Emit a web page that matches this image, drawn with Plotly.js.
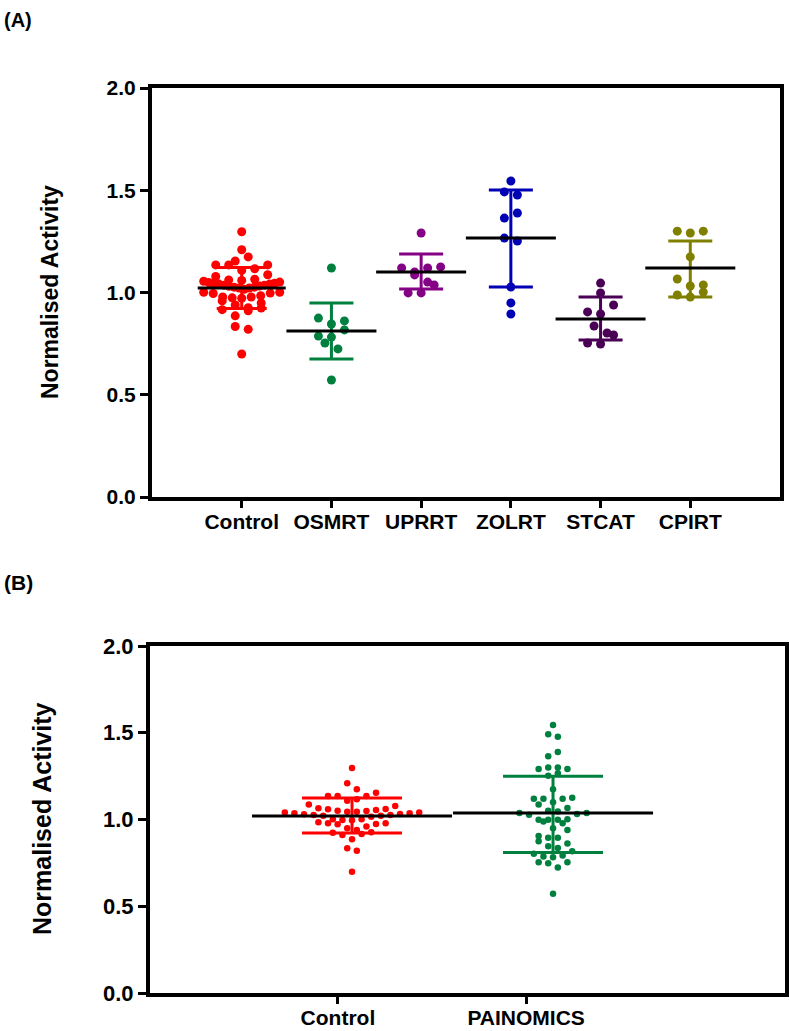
<!DOCTYPE html>
<html><head><meta charset="utf-8">
<script src="https://cdn.plot.ly/plotly-3.0.1.min.js"></script>
<style>html,body{margin:0;padding:0;background:#fff}#chart{width:789px;height:1031px}</style>
</head><body><div id="chart"></div>
<script>
// ---------------- DATA ----------------
const categoriesA = ['Control', 'OSMRT', 'UPRRT', 'ZOLRT', 'STCAT', 'CPIRT'];
const control = [1.297,1.209,1.174,1.154,1.135,1.135,1.135,1.116,1.108,1.087,1.078,1.065,1.061,1.059,1.055,1.051,1.049,1.045,1.045,1.041,1.041,1.036,1.036,1.032,1.030,1.026,1.026,1.022,1.022,1.016,1.001,1.001,0.997,0.995,0.984,0.978,0.978,0.974,0.972,0.959,0.949,0.939,0.926,0.924,0.916,0.911,0.886,0.834,0.820,0.699];
const osmrt = [1.120,0.875,0.861,0.846,0.817,0.787,0.782,0.753,0.724,0.572];
const uprrt = [1.291,1.125,1.120,1.120,1.100,1.086,1.051,1.037,0.998,0.998];
const zolrt = [1.545,1.492,1.477,1.389,1.364,1.266,1.252,1.027,0.949,0.895];
const stcat = [1.046,0.998,0.939,0.905,0.895,0.836,0.802,0.792,0.753,0.748];
const cpirt = [1.300,1.300,1.291,1.174,1.066,1.037,1.032,1.002,0.988,0.978];
const meansA   = [1.022, 0.812, 1.100, 1.266, 0.870, 1.120];
const sdUpperA = [1.122, 0.949, 1.188, 1.501, 0.978, 1.252];
const sdLowerA = [0.922, 0.675, 1.017, 1.027, 0.768, 0.978];
const colorsA  = ['#ff0000', '#00803f', '#840084', '#0000b4', '#4a0055', '#808000'];

const categoriesB = ['Control', 'PAINOMICS'];
const meansB   = [1.020, 1.037];
const sdUpperB = [1.124, 1.250];
const sdLowerB = [0.922, 0.810];
const colorsB  = ['#ff0000', '#00803f'];

const yTickVals = [0, 0.5, 1.0, 1.5, 2.0];
const yTickLabels = ['0.0', '0.5', '1.0', '1.5', '2.0'];
const yTitle = 'Normalised Activity';

// ---------------- LAYOUT GEOMETRY ----------------
const W = 789, H = 1031;
const A = {x0: 152, x1: 780, y0: 88, y1: 497, xr: [-1, 6.0], tickShift: 0};
// in panel B the plotted columns sit a little right of the tick marks
const B = {x0: 150, x1: 785, y0: 646, y1: 993, xr: [-1.005, 2.154], tickShift: [-0.070, -0.134]};
const FONT = 'Liberation Sans, Arial, sans-serif';
const LINE_EW = 1.4; // plotly 'line-ew' symbol length = 1.4 * size

function pxPerX(p) { return (p.x1 - p.x0) / (p.xr[1] - p.xr[0]); }
function pxPerY(p) { return (p.y1 - p.y0) / 2.0; }

// GraphPad-like scatter layout: bin values into rows, spread each row symmetrically
function rowSwarm(vals, pyScale, rowH, spacing, maxHalf) {
  const idx = vals.map((v, i) => i).sort((a, b) => vals[a] - vals[b]);
  const rows = [];
  let cur = null;
  idx.forEach(i => {
    const y = vals[i] * pyScale;
    if (!cur || y - cur.start >= rowH) { cur = {start: y, items: []}; rows.push(cur); }
    cur.items.push(i);
  });
  const off = new Array(vals.length).fill(0);
  let flip = 1;
  rows.forEach(r => {
    const n = r.items.length;
    let s = spacing;
    if (n > 1 && (n - 1) / 2 * s > maxHalf) s = maxHalf / ((n - 1) / 2);
    const pos = [];
    for (let k = 0; k < n; k++) pos.push((k - (n - 1) / 2) * s);
    pos.sort((a, b) => (Math.abs(a) - Math.abs(b)) || flip * (a - b));
    flip = -flip;
    r.items.forEach((it, j) => { off[it] = pos[j]; });
  });
  return off;
}

const traces = [];
const groupsA = [control, osmrt, uprrt, zolrt, stcat, cpirt];
groupsA.forEach((vals, i) => {
  const offs = rowSwarm(vals, pxPerY(A), i === 0 ? 8 : 9, 13, i === 0 ? 38 : 22);
  traces.push({
    type: 'scatter', mode: 'markers', xaxis: 'x', yaxis: 'y',
    x: offs.map(o => i + o / pxPerX(A)), y: vals,
    marker: {color: colorsA[i], size: 9, line: {width: 0}},
    hoverinfo: 'y', showlegend: false
  });
});
const painomics = [].concat(osmrt, uprrt, zolrt, stcat, cpirt);
const groupsB = [control, painomics];
groupsB.forEach((vals, i) => {
  const offs = rowSwarm(vals, pxPerY(B), 8, 9.6, 84);
  traces.push({
    type: 'scatter', mode: 'markers', xaxis: 'x2', yaxis: 'y2',
    x: offs.map(o => i + o / pxPerX(B)), y: vals,
    marker: {color: colorsB[i], size: 6.5, line: {width: 0}},
    hoverinfo: 'y', showlegend: false
  });
});

// mean + SD traces
meansA.forEach((m, i) => {
  traces.push({
    type: 'scatter', mode: 'markers', xaxis: 'x', yaxis: 'y',
    x: [i], y: [m],
    marker: {symbol: 'line-ew', size: (i === 0 ? 88 : 90) / LINE_EW, color: '#000', line: {color: '#000', width: 3}},
    error_y: {type: 'data', symmetric: false, array: [sdUpperA[i] - m], arrayminus: [m - sdLowerA[i]],
              color: colorsA[i], thickness: 3, width: i === 0 ? 25 : 22},
    hoverinfo: 'y', showlegend: false
  });
});
meansB.forEach((m, i) => {
  traces.push({
    type: 'scatter', mode: 'markers', xaxis: 'x2', yaxis: 'y2',
    x: [i], y: [m],
    marker: {symbol: 'line-ew', size: 200 / LINE_EW, color: '#000', line: {color: '#000', width: 3}},
    error_y: {type: 'data', symmetric: false, array: [sdUpperB[i] - m], arrayminus: [m - sdLowerB[i]],
              color: colorsB[i], thickness: 3, width: 50},
    hoverinfo: 'y', showlegend: false
  });
});

function xaxisDef(p, cats, anchor, fs) {
  const shift = (i) => Array.isArray(p.tickShift) ? p.tickShift[i] : p.tickShift;
  return {
    domain: [p.x0 / W, p.x1 / W], range: p.xr, anchor: anchor,
    tickmode: 'array', tickvals: cats.map((c, i) => i + shift(i)), ticktext: cats,
    ticks: 'outside', ticklen: 7, tickwidth: 3, tickcolor: '#000',
    ticklabelstandoff: -4,
    showline: true, linewidth: 4, linecolor: '#000', mirror: true,
    showgrid: false, zeroline: false,
    tickfont: {family: FONT, size: fs, color: '#000', weight: 'bold'}
  };
}
function yaxisDef(p, anchor, fs) {
  return {
    domain: [1 - p.y1 / H, 1 - p.y0 / H], range: [0, 2], anchor: anchor,
    tickmode: 'array', tickvals: yTickVals, ticktext: yTickLabels,
    ticks: 'outside', ticklen: 8, tickwidth: 3, tickcolor: '#000',
    showline: true, linewidth: 4, linecolor: '#000', mirror: true,
    showgrid: false, zeroline: false,
    tickfont: {family: FONT, size: fs, color: '#000', weight: 'bold'}
  };
}

const layout = {
  width: W, height: H,
  margin: {l: 0, r: 0, t: 0, b: 0},
  paper_bgcolor: '#fff', plot_bgcolor: '#fff',
  showlegend: false,
  xaxis: xaxisDef(A, categoriesA, 'y', 21),
  yaxis: yaxisDef(A, 'x', 21),
  xaxis2: xaxisDef(B, categoriesB, 'y2', 21),
  yaxis2: yaxisDef(B, 'x2', 22),
  annotations: [
    {text: '(A)', xref: 'paper', yref: 'paper', x: 0.002, y: 1 - 20 / H, xanchor: 'left', yanchor: 'middle',
     showarrow: false, font: {family: FONT, size: 20, color: '#000', weight: 'bold'}},
    {text: '(B)', xref: 'paper', yref: 'paper', x: 0.002, y: 1 - 582 / H, xanchor: 'left', yanchor: 'middle',
     showarrow: false, font: {family: FONT, size: 21, color: '#000', weight: 'bold'}},
    {text: yTitle, xref: 'paper', yref: 'paper', x: 50 / W, y: 1 - 292 / H, xanchor: 'center', yanchor: 'middle',
     textangle: -90, showarrow: false, font: {family: FONT, size: 23, color: '#000', weight: 'bold'}},
    {text: yTitle, xref: 'paper', yref: 'paper', x: 42 / W, y: 1 - 819 / H, xanchor: 'center', yanchor: 'middle',
     textangle: -90, showarrow: false, font: {family: FONT, size: 25, color: '#000', weight: 'bold'}}
  ]
};

Plotly.newPlot('chart', traces, layout, {staticPlot: true, displayModeBar: false});
</script>
</body></html>
